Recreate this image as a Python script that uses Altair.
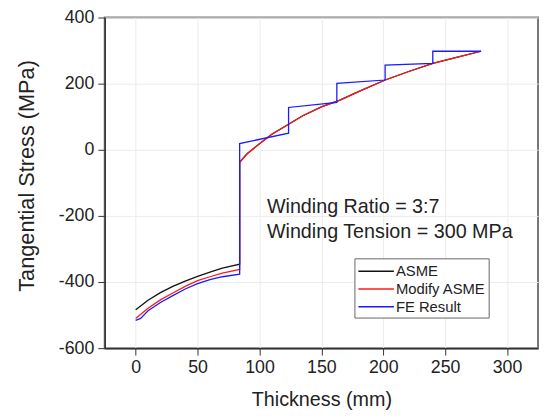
import altair as alt
import pandas as pd

# ---- data ----
asme_x = [0, 10, 20, 30, 40, 50, 60, 70, 84, 84, 90, 100, 110, 123.5, 135, 150, 165, 180, 201.5, 220, 240, 260, 279]
asme_y = [-484, -455, -432, -413, -397, -383, -370, -358, -346, -38, -12, 18, 47, 77, 103, 130, 150, 176, 211, 236, 261, 280, 298]

mod_x = [0, 10, 20, 30, 40, 50, 60, 70, 84, 84, 90, 100, 110, 123.5, 135, 150, 165, 180, 201.5, 220, 240, 260, 279]
mod_y = [-510, -479, -454, -433, -413, -396, -384, -373, -362, -38, -12, 18, 47, 77, 103, 130, 150, 176, 211, 236, 261, 280, 298]

fe_x = [0, 4, 10, 20, 30, 40, 50, 60, 70, 84, 84, 123.5, 123.5, 162.5, 162.5, 201.5, 201.5, 240, 240, 279]
fe_y = [-516, -510, -487, -462, -441, -421, -405, -393, -384, -376, 19, 50, 128, 143, 201, 211, 256, 261, 298, 298]

series_names = ["ASME", "Modify ASME", "FE Result"]
series_colors = ["#111111", "#ff1a1a", "#1a1aff"]

x_major = [0, 50, 100, 150, 200, 250, 300]
y_ticks = [-600, -500, -400, -300, -200, -100, 0, 100, 200, 300, 400]

annot_text = ["Winding Ratio = 3:7", "Winding Tension = 300 MPa"]
annot_x = [106, 106]
annot_y = [-191, -266]

rows = []
for name, xs_, ys_ in [("ASME", asme_x, asme_y), ("Modify ASME", mod_x, mod_y), ("FE Result", fe_x, fe_y)]:
    for i, (a, b) in enumerate(zip(xs_, ys_)):
        rows.append({"series": name, "t": a, "s": b, "idx": i})
df = pd.DataFrame(rows)
ann = pd.DataFrame({"text": annot_text, "t": annot_x, "s": annot_y})

FONT = "Liberation Sans"
xs = alt.Scale(domain=[-25, 325], nice=False, zero=False)
ys = alt.Scale(domain=[-600, 400], nice=False, zero=False)

x_axis = alt.Axis(
    values=x_major, grid=True, gridColor="#ececec",
    tickSize=7,
    tickColor="#333333", domainColor="#333333", domainWidth=1.5,
    labelOverlap=False, labelFlush=False,
    labelFontSize=18, labelPadding=4, labelColor="#222222", labelFont=FONT,
    title="Thickness (mm)", titleFontSize=20, titleFont=FONT, titleFontWeight="normal",
    titleColor="#222222", titleBaseline="middle", titleY=52, orient="bottom",
)
y_axis = alt.Axis(
    values=y_ticks, grid=True, gridColor="#ececec",
    tickSize={"condition": {"test": "datum.value % 200 != 0", "value": 4}, "value": 7},
    tickColor="#333333", domainColor="#333333", domainWidth=1.5,
    labelExpr="(datum.value % 200 == 0) ? toString(datum.value) : ''",
    labelOverlap=False, labelFlush=False,
    labelFontSize=18, labelPadding=4, labelColor="#222222", labelFont=FONT,
    title="Tangential Stress (MPa)", titleFontSize=22, titleFont=FONT, titleFontWeight="normal",
    titleColor="#222222", titleAngle=-90, titleBaseline="middle", titleAlign="center",
    titleX=-79, titleY=160, orient="left",
)

lines = alt.Chart(df).mark_line(strokeWidth=1.3).encode(
    x=alt.X("t:Q", scale=xs, axis=x_axis),
    y=alt.Y("s:Q", scale=ys, axis=y_axis),
    color=alt.Color("series:N", scale=alt.Scale(domain=series_names, range=series_colors),
                    legend=alt.Legend(title=None, orient="none", legendX=253, legendY=244,
                                      symbolType="M-1,0H3", symbolSize=324, symbolStrokeWidth=1.5,
                                      labelFontSize=15, labelFont=FONT, labelColor="#222222",
                                      labelOffset=19, rowPadding=0, padding=3,
                                      strokeColor="#666666", fillColor="white")),
    order="idx:Q",
)

text = alt.Chart(ann).mark_text(align="left", baseline="alphabetic", fontSize=20, font=FONT,
                                color="#222222").encode(
    x=alt.X("t:Q", scale=xs), y=alt.Y("s:Q", scale=ys), text="text:N"
)

chart = alt.layer(lines, text).properties(
    width=439, height=335, padding={"left": 98, "top": 7, "right": 1, "bottom": 60},
    autosize=alt.AutoSizeParams(type="none"),
).configure_view(stroke="#777777", strokeWidth=2)

chart.save("out.html", embed_options={"renderer": "svg", "actions": False})
